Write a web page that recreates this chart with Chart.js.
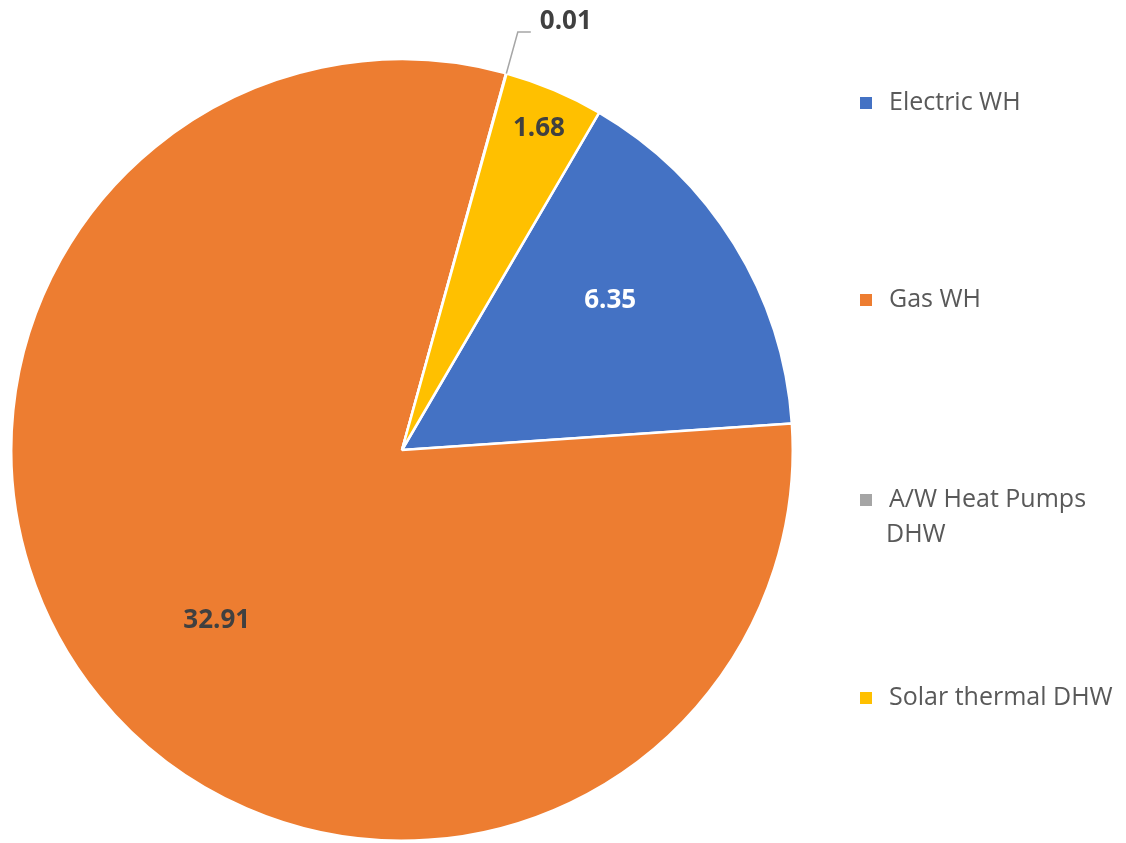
<!DOCTYPE html>
<html>
<head>
<meta charset="utf-8">
<script src="https://cdn.jsdelivr.net/npm/chart.js@4/dist/chart.umd.min.js"></script>
<style>
  body { margin: 0; background: #fff; }
  #wrap { width: 1126px; height: 843px; position: relative; }
</style>
</head>
<body>
<div id="wrap"><canvas id="pieChart"></canvas></div>
<script>
// Data
const categories = ['Electric WH', 'Gas WH', 'A/W Heat Pumps DHW', 'Solar thermal DHW'];
const legendLines = [['Electric WH'], ['Gas WH'], ['A/W Heat Pumps', 'DHW'], ['Solar thermal DHW']];
const values = [6.35, 32.91, 0.01, 1.68];
const colors = ['#4472C4', '#ED7D31', '#A5A5A5', '#FFC000'];

const FONT = "'Open Sans', 'Liberation Sans', sans-serif";

// label placement per slice: fraction of radius, angle nudge (deg), colour
const labelStyle = [
  { r: 0.66, shift: -4.4, color: '#ffffff' },
  { r: 0.64, shift: -3, color: '#404040' },
  { r: 1.11, shift: 0, color: '#404040', outside: true },
  { r: 0.90, shift: 0, color: '#404040' }
];

// Draws the values on the slices
const sliceLabels = {
  id: 'sliceLabels',
  afterDatasetsDraw(chart) {
    const ctx = chart.ctx;
    const meta = chart.getDatasetMeta(0);
    ctx.save();
    ctx.font = `bold 26px ${FONT}`;
    ctx.textBaseline = 'middle';
    meta.data.forEach((arc, i) => {
      const p = arc.getProps(['x', 'y', 'startAngle', 'endAngle', 'outerRadius'], true);
      const st = labelStyle[i];
      const mid = (p.startAngle + p.endAngle) / 2;
      const a = mid + st.shift * Math.PI / 180;
      const lx = p.x + Math.cos(a) * p.outerRadius * st.r;
      const ly = p.y + Math.sin(a) * p.outerRadius * st.r;
      const txt = values[i].toFixed(2);
      ctx.fillStyle = st.color;
      if (st.outside) {
        const ex = p.x + Math.cos(mid) * p.outerRadius;
        const ey = p.y + Math.sin(mid) * p.outerRadius;
        ctx.strokeStyle = '#A6A6A6';
        ctx.lineWidth = 1.5;
        ctx.beginPath();
        ctx.moveTo(ex, ey);
        ctx.lineTo(lx, ly);
        ctx.lineTo(lx + 13, ly);
        ctx.stroke();
        ctx.textAlign = 'left';
        ctx.fillText(txt, lx + 22, ly - 10);
      } else {
        ctx.textAlign = 'center';
        ctx.fillText(txt, lx, ly + 3);
      }
    });
    ctx.restore();
  }
};

// Legend on the right, spaced like the original
const legendRows = [103, 300, 500, 698];
const sideLegend = {
  id: 'sideLegend',
  afterDraw(chart) {
    const ctx = chart.ctx;
    ctx.save();
    ctx.font = `25px ${FONT}`;
    ctx.textBaseline = 'middle';
    ctx.textAlign = 'left';
    categories.forEach((c, i) => {
      const y = legendRows[i];
      ctx.fillStyle = colors[i];
      ctx.fillRect(860, y - 6, 12, 12);
      ctx.fillStyle = '#595959';
      legendLines[i].forEach((line, k) => {
        ctx.fillText(line, k === 0 ? 889 : 886, y + k * 35);
      });
    });
    ctx.restore();
  }
};

new Chart(document.getElementById('pieChart'), {
  type: 'pie',
  data: {
    labels: categories,
    datasets: [{
      data: values,
      backgroundColor: colors,
      borderColor: '#ffffff',
      borderWidth: 2.5
    }]
  },
  options: {
    responsive: true,
    maintainAspectRatio: false,
    animation: false,
    rotation: 30.3,
    layout: { padding: { left: 10, right: 332, top: 58, bottom: 1 } },
    plugins: {
      legend: { display: false },
      tooltip: { enabled: false }
    }
  },
  plugins: [sliceLabels, sideLegend]
});
</script>
</body>
</html>
